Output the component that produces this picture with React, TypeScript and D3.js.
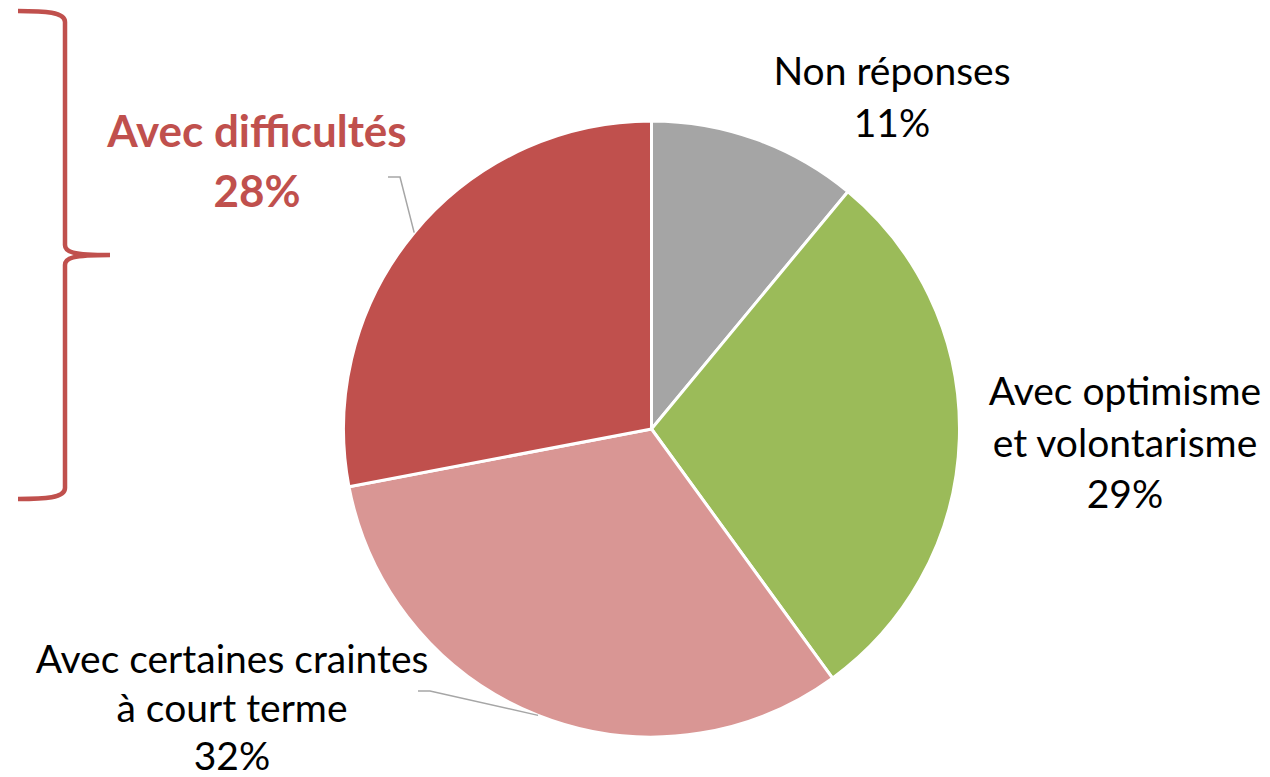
import React from "react";
import * as d3 from "d3";

const categories = [
  "Non réponses",
  "Avec optimisme et volontarisme",
  "Avec certaines craintes à court terme",
  "Avec difficultés",
];
const values = [11, 29, 32, 28];
const colors = ["#A5A5A5", "#9BBB59", "#D99694", "#C0504D"];
const labelLines = [
  ["Non réponses", "11%"],
  ["Avec optimisme", "et volontarisme", "29%"],
  ["Avec certaines craintes", "à court terme", "32%"],
];
const bracketLabel = ["Avec difficultés", "28%"];

const W = 1270;
const H = 777;
const cx = 651.5;
const cy = 429;
const R = 308;
const FONT = "Lato, 'Open Sans', sans-serif";

export default function App() {
  const pie = d3.pie<number>().sort(null).value((d) => d)(values);
  const arc = d3.arc<d3.PieArcDatum<number>>().innerRadius(0).outerRadius(R);

  const labelPos = [
    { x: 892, y: 85, gap: 52 },
    { x: 1125, y: 405, gap: 51.5 },
    { x: 232, y: 673, gap: 48.5 },
  ];

  const edge = (i: number) => {
    const a = (pie[i].startAngle + pie[i].endAngle) / 2;
    return [cx + R * Math.sin(a), cy - R * Math.cos(a)];
  };
  const e3 = edge(3);
  const e2 = edge(2);

  const bracket = d3.path();
  bracket.moveTo(18, 11);
  bracket.bezierCurveTo(45, 11, 65, 12, 65, 22);
  bracket.lineTo(65, 245);
  bracket.bezierCurveTo(65, 252, 72, 255, 110, 255);
  bracket.moveTo(110, 255);
  bracket.bezierCurveTo(72, 255, 65, 258, 65, 265);
  bracket.lineTo(65, 488);
  bracket.bezierCurveTo(65, 498, 45, 499, 18, 499);

  return (
    <svg
      width={W}
      height={H}
      style={{ position: "absolute", left: 0, top: 0, background: "#fff" }}
      fontFamily={FONT}
    >
      <g transform={`translate(${cx},${cy})`}>
        {pie.map((d, i) => (
          <path
            key={categories[i]}
            d={arc(d) || ""}
            fill={colors[i]}
            stroke="#fff"
            strokeWidth={3}
            strokeLinejoin="round"
          />
        ))}
      </g>
      <polyline
        points={`388,177 400,177 ${e3[0]},${e3[1]}`}
        fill="none"
        stroke="#A6A6A6"
        strokeWidth={1.5}
      />
      <polyline
        points={`418,691 430,691 ${e2[0]},${e2[1]}`}
        fill="none"
        stroke="#A6A6A6"
        strokeWidth={1.5}
      />
      {labelLines.map((lines, i) => (
        <text
          key={i}
          x={labelPos[i].x}
          y={labelPos[i].y}
          textAnchor="middle"
          fontSize={39}
          fill="#000"
        >
          {lines.map((l, j) => (
            <tspan key={j} x={labelPos[i].x} y={labelPos[i].y + j * labelPos[i].gap}>
              {l}
            </tspan>
          ))}
        </text>
      ))}
      <text textAnchor="middle" fontSize={44} fontWeight="bold" fill={colors[3]}>
        {bracketLabel.map((l, j) => (
          <tspan key={j} x={257} y={147 + j * 60}>
            {l}
          </tspan>
        ))}
      </text>
      <path
        d={bracket.toString()}
        fill="none"
        stroke={colors[3]}
        strokeWidth={4.5}
        strokeLinecap="butt"
      />
    </svg>
  );
}
